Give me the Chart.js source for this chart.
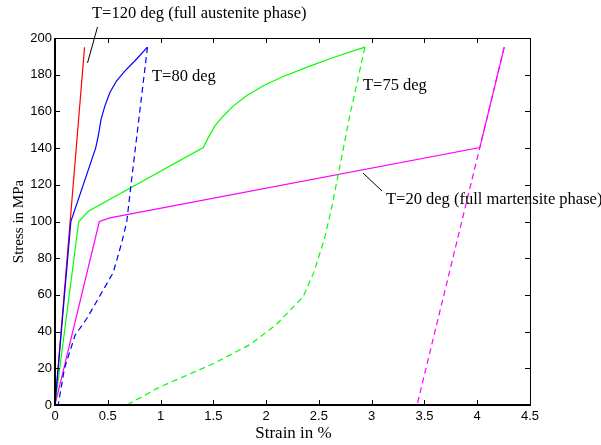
<!DOCTYPE html>
<html>
<head>
<meta charset="utf-8">
<script src="https://cdn.jsdelivr.net/npm/chart.js@4"></script>
<style>
  html, body { margin: 0; padding: 0; background: #fff; }
  #wrap { width: 601px; height: 445px; }
</style>
</head>
<body>
<div id="wrap"><canvas id="sma"></canvas></div>
<script>
// tick values
const strainTicks = [0, 0.5, 1, 1.5, 2, 2.5, 3, 3.5, 4, 4.5];
const stressTicks = [0, 20, 40, 60, 80, 100, 120, 140, 160, 180, 200];

// T=120 deg
const t120Strain = [0, 0.28];
const t120Stress = [0, 195];

// T=80 deg loading / unloading
const t80LoadStrain = [0, 0.15, 0.385, 0.41, 0.436, 0.473, 0.52, 0.584, 0.663, 0.758, 0.876];
const t80LoadStress = [0, 100, 140, 146.6, 155.7, 163, 170.3, 176.7, 182.1, 187.6, 195];
const t80UnloadStrain = [0.876, 0.72, 0.68, 0.63, 0.55, 0.43, 0.3, 0.19, 0.09, 0.03];
const t80UnloadStress = [195, 120, 100, 88, 72, 60, 47, 38, 20, 0];

// T=75 deg loading / unloading
const t75LoadStrain = [0, 0.225, 0.316, 1.405, 1.452, 1.515, 1.594, 1.69, 1.815, 1.973, 2.162, 2.383, 2.636, 2.936];
const t75LoadStress = [0, 100, 105.6, 140.3, 145.7, 152.1, 157.5, 163, 168.5, 174, 179, 184, 189.4, 195];
const t75UnloadStrain = [2.936, 2.79, 2.63, 2.555, 2.45, 2.35, 2.1, 1.85, 1.5, 1.0, 0.68];
const t75UnloadStress = [195, 157, 110, 91, 72, 59, 44, 33, 22.5, 10, 0];

// T=20 deg loading / unloading
const t20LoadStrain = [0, 0.42, 0.52, 4.025, 4.256];
const t20LoadStress = [0, 100, 102, 140.3, 195];
const t20UnloadStrain = [4.256, 3.43];
const t20UnloadStress = [195, 0];

function pts(xs, ys) {
    return xs.map((x, i) => ({ x: x, y: ys[i] }));
}

function series(xs, ys, color, dashed) {
    return {
        data: pts(xs, ys),
        borderColor: color,
        borderWidth: 1.2,
        borderDash: dashed ? [6, 4] : [],
        showLine: true,
        pointRadius: 0,
        tension: 0,
        fill: false
    };
}

const serif = '"Liberation Serif", "Times New Roman", serif';

// frame, inward ticks, axis titles and annotations
const matlabLook = {
    id: 'matlabLook',
    afterDraw(chart) {
        const ctx = chart.ctx;
        const a = chart.chartArea;
        const xs = chart.scales.x, ys = chart.scales.y;
        ctx.save();
        ctx.strokeStyle = '#000';
        ctx.lineWidth = 1;
        ctx.beginPath();
        ctx.moveTo(a.left, a.top + 0.5);
        ctx.lineTo(a.right + 0.5, a.top + 0.5);
        ctx.lineTo(a.right + 0.5, a.bottom);
        ctx.stroke();
        ctx.lineWidth = 2;
        ctx.beginPath();
        ctx.moveTo(a.left, a.top);
        ctx.lineTo(a.left, a.bottom);
        ctx.lineTo(a.right + 1, a.bottom);
        ctx.stroke();

        ctx.lineWidth = 1;
        ctx.beginPath();
        strainTicks.forEach(v => {
            const px = Math.round(xs.getPixelForValue(v)) + 0.5;
            ctx.moveTo(px, a.bottom); ctx.lineTo(px, a.bottom - 5);
            ctx.moveTo(px, a.top); ctx.lineTo(px, a.top + 5);
        });
        stressTicks.forEach(v => {
            const py = Math.round(ys.getPixelForValue(v)) + 0.5;
            ctx.moveTo(a.left, py); ctx.lineTo(a.left + 5, py);
            ctx.moveTo(a.right, py); ctx.lineTo(a.right - 5, py);
        });
        ctx.stroke();

        ctx.fillStyle = '#000';
        ctx.textBaseline = 'middle';
        ctx.textAlign = 'center';
        ctx.font = '17px ' + serif;
        ctx.fillText('Strain in %', (a.left + a.right) / 2 + 1, 434);
        ctx.font = '15px ' + serif;
        ctx.save();
        ctx.translate(19, (a.top + a.bottom) / 2);
        ctx.rotate(-Math.PI / 2);
        ctx.fillText('Stress in MPa', 0, 0);
        ctx.restore();

        ctx.font = '16.5px ' + serif;
        ctx.textAlign = 'left';
        ctx.fillText('T=120 deg (full austenite phase)', 92, 14);
        ctx.fillText('T=80 deg', 152, 77);
        ctx.fillText('T=75 deg', 363, 86);
        ctx.fillText('T=20 deg (full martensite phase)', 386, 200);

        ctx.beginPath();
        ctx.moveTo(97.5, 27); ctx.lineTo(87.5, 63);
        ctx.moveTo(363, 173); ctx.lineTo(382, 191);
        ctx.stroke();
        ctx.restore();
    }
};

new Chart(document.getElementById('sma'), {
    type: 'scatter',
    data: {
        datasets: [
            series(t80LoadStrain, t80LoadStress, '#0000ff', false),
            series(t80UnloadStrain, t80UnloadStress, '#0000ff', true),
            series(t75LoadStrain, t75LoadStress, '#00ff00', false),
            series(t75UnloadStrain, t75UnloadStress, '#00ff00', true),
            series(t20LoadStrain, t20LoadStress, '#ff00ff', false),
            series(t20UnloadStrain, t20UnloadStress, '#ff00ff', true),
            series(t120Strain, t120Stress, '#ff0000', false)
        ]
    },
    options: {
        responsive: true,
        maintainAspectRatio: false,
        animation: false,
        layout: { padding: { top: 38, right: 71, left: 0, bottom: 0 } },
        plugins: { legend: { display: false }, tooltip: { enabled: false } },
        scales: {
            x: {
                type: 'linear',
                min: 0, max: 4.5,
                afterFit: s => { s.height = 40; },
                afterBuildTicks: s => { s.ticks = strainTicks.map(v => ({ value: v })); },
                grid: { display: false, drawTicks: false },
                border: { display: false },
                ticks: {
                    padding: 4,
                    color: '#000',
                    font: { family: '"Liberation Sans", Arial, sans-serif', size: 13 },
                    maxRotation: 0,
                    callback: v => String(v)
                }
            },
            y: {
                type: 'linear',
                min: 0, max: 200,
                afterFit: s => { s.width = 55; },
                afterBuildTicks: s => { s.ticks = stressTicks.map(v => ({ value: v })); },
                grid: { display: false, drawTicks: false },
                border: { display: false },
                ticks: {
                    padding: 3,
                    color: '#000',
                    font: { family: '"Liberation Sans", Arial, sans-serif', size: 13 },
                    callback: v => String(v)
                }
            }
        }
    },
    plugins: [matlabLook]
});
</script>
</body>
</html>
